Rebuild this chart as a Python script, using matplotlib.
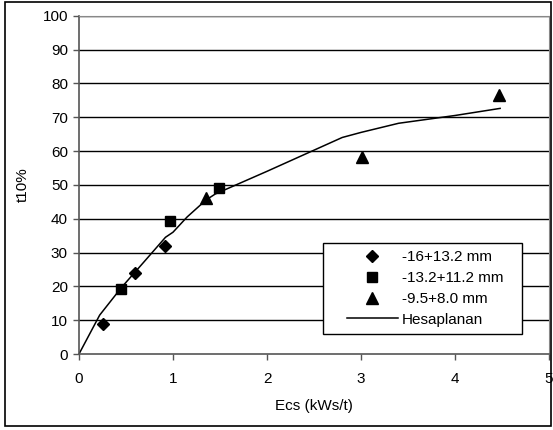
import matplotlib
matplotlib.use("Agg")
import matplotlib.pyplot as plt
from matplotlib.patches import Rectangle

plt.rcParams['font.family'] = ['Liberation Sans', 'DejaVu Sans']

# measured data
x_d = [0.25, 0.60, 0.91]
y_d = [9.0, 24.0, 32.0]
x_s = [0.45, 0.97, 1.49]
y_s = [19.3, 39.4, 49.2]
x_t = [1.35, 3.01, 4.47]
y_t = [46.0, 58.3, 76.5]
# calculated curve
x_c = [0.0, 0.22, 0.45, 0.70, 0.92, 1.00, 1.15, 1.35, 1.45, 2.00, 2.40, 2.80, 3.00, 3.40, 4.00, 4.48]
y_c = [0.0, 11.5, 19.6, 27.5, 34.5, 36.0, 40.5, 45.5, 47.3, 54.0, 59.0, 64.0, 65.5, 68.2, 70.5, 72.6]

labels = ['-16+13.2 mm', '-13.2+11.2 mm', '-9.5+8.0 mm', 'Hesaplanan']

fig = plt.figure(figsize=(5.53, 4.30), dpi=100)
ax = fig.add_axes([79/553, 1-354/430, 470/553, (354-15.7)/430])

fig.patches.append(Rectangle((5/553, 4/430), 546/553, 424/430, transform=fig.transFigure,
                             fill=False, edgecolor='black', lw=1.2))

for yv in range(10, 101, 10):
    ax.axhline(yv, color='black', lw=1.0, zorder=1)

ax.plot(x_d, y_d, 'D', color='black', ms=6.5, ls='none', label=labels[0], zorder=3)
ax.plot(x_s, y_s, 's', color='black', ms=7, ls='none', label=labels[1], zorder=3)
ax.plot(x_t, y_t, '^', color='black', ms=8, ls='none', label=labels[2], zorder=3)
ax.plot(x_c, y_c, '-', color='black', lw=1.1, label=labels[3], zorder=2)

ax.set_xlim(0, 5)
ax.set_ylim(0, 100)
ax.set_xticks(range(0, 6))
ax.set_yticks(range(0, 101, 10))
ax.tick_params(labelsize=11, length=4, width=1, color='#555555', direction='out', pad=9)
ax.tick_params(axis='y', pad=4)
for s in ['top', 'right']:
    ax.spines[s].set_color('#888888')
for s in ['left', 'bottom']:
    ax.spines[s].set_color('#555555')
    ax.spines[s].set_linewidth(1.2)

ax.set_xlabel('Ecs (kWs/t)', fontsize=11, labelpad=9)
ax.set_ylabel('t10%', fontsize=11, labelpad=9)

# legend box drawn separately, content centred inside it
ax.add_patch(Rectangle((0.519, 0.059), 0.424, 0.269, transform=ax.transAxes,
                       facecolor='white', edgecolor='black', lw=1.0, zorder=4))
leg = ax.legend(loc='center', bbox_to_anchor=(0.737, 0.1936), frameon=False,
                fontsize=11, borderpad=0.0, labelspacing=0.45, handlelength=3.3,
                handletextpad=0.3)
leg.set_zorder(5)

fig.savefig('out.png', dpi=100)
